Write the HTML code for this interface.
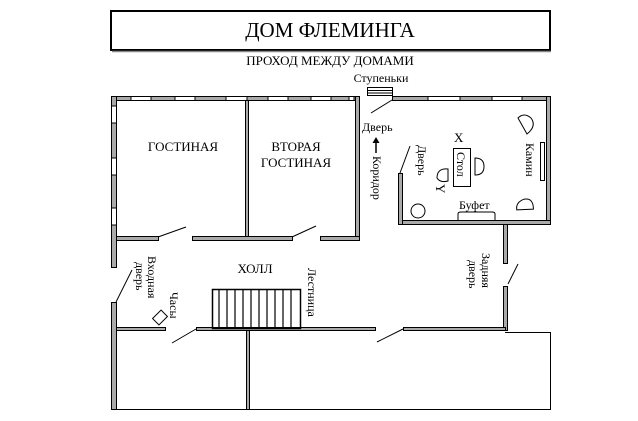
<!DOCTYPE html><html><head><meta charset="utf-8"><style>body{margin:0;background:#fff}svg{display:block}svg text{font-family:"Liberation Serif","Noto Serif CJK SC","DejaVu Serif",serif;fill:#000}</style></head><body>
<svg width="638" height="421" viewBox="0 0 638 421" xmlns="http://www.w3.org/2000/svg">
<g stroke="#000" fill="none">
<rect x="111" y="11" width="439" height="39" stroke-width="2"/>
<line x1="112" y1="51.5" x2="551" y2="51.5" stroke="#888" stroke-width="1.5"/>
</g>
<text x="330" y="37" font-size="21" text-anchor="middle">ДОМ ФЛЕМИНГА</text>
<text x="330" y="65" font-size="13" text-anchor="middle">ПРОХОД МЕЖДУ ДОМАМИ</text>
<text x="381" y="82" font-size="12" text-anchor="middle">Ступеньки</text>
<g stroke="#000" stroke-width="1" fill="#aaa">
<rect x="367.5" y="87.5" width="25" height="8" fill="#fff"/>
<line x1="368" y1="90.5" x2="392" y2="90.5"/><line x1="368" y1="93" x2="392" y2="93"/>
<rect x="111.5" y="96.5" width="248" height="4"/>
<rect x="111.5" y="96.5" width="5" height="171"/>
<rect x="111.5" y="302.5" width="5" height="107"/>
<rect x="355.5" y="96.5" width="4" height="144"/>
<rect x="245.5" y="100.5" width="3" height="137"/>
<rect x="116.5" y="236.5" width="42" height="4"/>
<rect x="192.5" y="236.5" width="100" height="4"/>
<rect x="320.5" y="236.5" width="39" height="4"/>
<rect x="392.5" y="96.5" width="158" height="4"/>
<rect x="546.5" y="96.5" width="4" height="128"/>
<rect x="398.5" y="220.5" width="152" height="4"/>
<rect x="398.5" y="173.5" width="4" height="51"/>
<rect x="503.5" y="224.5" width="4" height="39"/>
<rect x="503.5" y="286.5" width="4" height="44"/>
<rect x="116.5" y="327.5" width="49" height="3"/>
<rect x="196.5" y="327.5" width="179" height="3"/>
<rect x="403.5" y="327.5" width="102" height="3"/>
<rect x="246.5" y="330.5" width="3" height="79"/>
</g>
<g fill="#fff" stroke="#000" stroke-width="1">
<rect x="131" y="96.5" width="20" height="4"/><rect x="175" y="96.5" width="20" height="4"/>
<rect x="226" y="96.5" width="21" height="4"/><rect x="268" y="96.5" width="20" height="4"/>
<rect x="311" y="96.5" width="20" height="4"/><rect x="349" y="96.5" width="5" height="4"/>
<rect x="428" y="96.5" width="32" height="4"/><rect x="492" y="96.5" width="30" height="4"/>
<rect x="111.5" y="106" width="5" height="17"/><rect x="111.5" y="158" width="5" height="17"/><rect x="111.5" y="208" width="5" height="17"/>
</g>
<g stroke="#000" stroke-width="1" fill="none">
<line x1="111" y1="409.5" x2="551" y2="409.5"/>
<polyline points="505,332.5 550.5,332.5 550.5,409"/>
<line x1="158" y1="237" x2="186" y2="227"/>
<line x1="292" y1="237" x2="316" y2="226"/>
<line x1="371" y1="113" x2="392" y2="100"/>
<line x1="400" y1="173" x2="410" y2="146"/>
<line x1="116" y1="302" x2="132" y2="270"/>
<line x1="508" y1="284" x2="518" y2="264"/>
<line x1="172" y1="343" x2="196" y2="329"/>
<line x1="377" y1="342" x2="403" y2="329"/>
<line x1="376" y1="140" x2="376" y2="153" stroke-width="1.5"/>
<rect x="540.5" y="142.5" width="4" height="38" fill="#fff"/>
<rect x="453.5" y="148.5" width="17" height="38" fill="#fff"/>
<circle cx="418" cy="211" r="7"/>
<path d="M458,221 V214 Q458,212 461,212 H492 Q495,212 495,214 V221"/>
<path d="M518,118 L527,134 Q537,126 531,118 Q524,112 518,118 Z"/>
<path d="M518,200 L527,214 Q537,208 531,201 Q524,195 518,200 Z" transform="rotate(-60 526 206)"/>
<path d="M475,158 V175 Q484,175 484,166.5 Q484,158 475,158 Z"/>
<path d="M448,169 L448,181 Q440,183 437,178 Q437,168 448,169 Z"/>
<rect x="154" y="313" width="12" height="9" transform="rotate(-45 160 317.5)"/>
<rect x="212.5" y="289.5" width="88" height="39" stroke-width="1.5"/>
</g>
<polygon points="376,137 372.5,143 379.5,143" fill="#000"/>
<g stroke="#000" stroke-width="1.2">
<line x1="219" y1="290" x2="219" y2="328"/><line x1="227" y1="290" x2="227" y2="328"/><line x1="235" y1="290" x2="235" y2="328"/><line x1="243" y1="290" x2="243" y2="328"/><line x1="251" y1="290" x2="251" y2="328"/><line x1="259" y1="290" x2="259" y2="328"/><line x1="267" y1="290" x2="267" y2="328"/><line x1="275" y1="290" x2="275" y2="328"/><line x1="283" y1="290" x2="283" y2="328"/><line x1="291" y1="290" x2="291" y2="328"/>
</g>
<g font-size="13">
<text x="183" y="151" text-anchor="middle">ГОСТИНАЯ</text>
<text x="296" y="151" text-anchor="middle">ВТОРАЯ</text>
<text x="296" y="167" text-anchor="middle">ГОСТИНАЯ</text>
<text x="255" y="273" text-anchor="middle">ХОЛЛ</text>
</g>
<g font-size="12">
<text x="362" y="131">Дверь</text>
<text transform="translate(373,156) rotate(90)">Коридор</text>
<text transform="translate(418,145) rotate(90)">Дверь</text>
<text x="454" y="142" font-size="13">X</text>
<text transform="translate(436,184) rotate(90)" font-size="13">Y</text>
<text transform="translate(457,152) rotate(90)">Стол</text>
<text transform="translate(526,143) rotate(90)">Камин</text>
<text x="459" y="209">Буфет</text>
<text transform="translate(148,256) rotate(90)">Входная</text>
<text transform="translate(136,262) rotate(90)">дверь</text>
<text transform="translate(170,292) rotate(90)">Часы</text>
<text transform="translate(308,268) rotate(90)">Лестница</text>
<text transform="translate(482,253) rotate(90)">Задняя</text>
<text transform="translate(469,260) rotate(90)">дверь</text>
</g>
</svg></body></html>
